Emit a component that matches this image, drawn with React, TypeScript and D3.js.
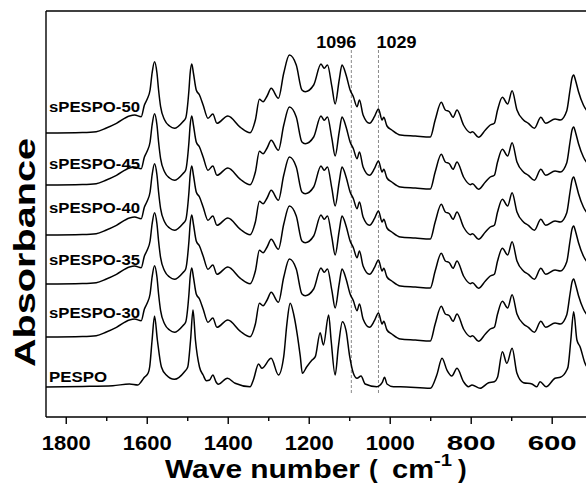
import React from "react";
import * as d3 from "d3";

// ---- data (wavenumber cm-1, absorbance a.u.) ----
const sampleNames = ["PESPO", "sPESPO-30", "sPESPO-35", "sPESPO-40", "sPESPO-45", "sPESPO-50"];
const sampleOffsets = [0, 0.5, 1.03, 1.52, 2.02, 2.54];
const sampleIsSulfonated = [false, true, true, true, true, true];

const pespoSpectrum: [number, number][] = [
  [1850, 0], [1760, 0.005], [1685, 0.013], [1644, 0.03], [1623, 0.02], [1615, 0.053], [1607, 0.097],
  [1598, 0.137], [1594, 0.2], [1588, 0.47], [1582, 0.71], [1575, 0.47], [1565, 0.2], [1553, 0.12],
  [1533, 0.077], [1508, 0.153], [1500, 0.2], [1493, 0.47], [1487, 0.77], [1481, 0.47], [1471, 0.2],
  [1462, 0.12], [1454, 0.063], [1446, 0.07], [1438, 0.12], [1430, 0.05], [1425, 0.027], [1402, 0.087],
  [1383, 0.037], [1346, 0.003], [1338, 0.07], [1325, 0.23], [1317, 0.187], [1294, 0.287], [1276, 0.12],
  [1263, 0.303], [1255, 0.637], [1247, 0.837], [1238, 0.72], [1230, 0.537], [1222, 0.303], [1217, 0.137],
  [1206, 0.203], [1193, 0.27], [1185, 0.303], [1173, 0.543], [1165, 0.42], [1152, 0.72], [1146, 0.47],
  [1136, 0.12], [1128, 0.403], [1118, 0.653], [1109, 0.563], [1100, 0.303], [1091, 0.137], [1082, 0.087],
  [1072, 0.11], [1062, 0.03], [1033, 0.003], [1020, 0.043], [1014, 0.097], [1008, 0.03], [992, 0.003],
  [975, 0.003], [901, -0.013], [885, 0.12], [872, 0.287], [860, 0.17], [848, 0.11], [835, 0.187],
  [819, 0.053], [807, 0.003], [798, 0.02], [778, -0.013], [757, 0.043], [743, 0.053], [735, 0.097],
  [723, 0.353], [712, 0.237], [699, 0.387], [687, 0.137], [671, 0.043], [650, 0.03], [638, 0.003],
  [630, 0.053], [615, 0.003], [593, 0.087], [580, 0.097], [564, 0.17], [561, 0.2], [554, 0.47],
  [547, 0.753], [539, 0.47], [531, 0.4], [519, 0.237], [505, 0.16],
];

const sulfonatedSpectrum: [number, number][] = [
  [1850, 0], [1760, 0.005], [1726, 0.013], [1701, 0.05], [1676, 0.097], [1644, 0.17], [1631, 0.18],
  [1615, 0.163], [1607, 0.28], [1600, 0.34], [1593, 0.43], [1588, 0.6], [1582, 0.713], [1576, 0.6],
  [1572, 0.43], [1567, 0.263], [1557, 0.13], [1545, 0.07], [1533, 0.047], [1512, 0.113], [1505, 0.15],
  [1497, 0.43], [1494, 0.6], [1490, 0.69], [1486, 0.6], [1479, 0.43], [1471, 0.38], [1462, 0.28],
  [1450, 0.147], [1438, 0.19], [1428, 0.097], [1401, 0.17], [1370, 0.057], [1346, 0.003], [1333, 0.13],
  [1323, 0.337], [1314, 0.313], [1304, 0.37], [1294, 0.447], [1276, 0.347], [1263, 0.597], [1249, 0.78],
  [1232, 0.68], [1218, 0.43], [1210, 0.413], [1189, 0.48], [1171, 0.69], [1163, 0.647], [1155, 0.68],
  [1144, 0.463], [1136, 0.29], [1126, 0.53], [1119, 0.68], [1109, 0.58], [1099, 0.43], [1091, 0.363],
  [1082, 0.263], [1076, 0.33], [1067, 0.18], [1051, 0.097], [1039, 0.163], [1029, 0.24], [1020, 0.13],
  [1016, 0.157], [1008, 0.07], [996, 0.03], [975, -0.02], [938, -0.03], [901, -0.04], [889, 0.13],
  [874, 0.307], [864, 0.23], [854, 0.213], [845, 0.157], [835, 0.23], [819, 0.08], [802, 0.003],
  [797, 0.013], [782, -0.043], [765, 0.03], [753, 0.08], [743, 0.097], [735, 0.23], [723, 0.357],
  [710, 0.29], [699, 0.423], [687, 0.23], [671, 0.13], [659, 0.097], [644, 0.047], [628, 0.157],
  [616, 0.097], [593, 0.14], [580, 0.13], [564, 0.223], [556, 0.43], [551, 0.55], [547, 0.58],
  [542, 0.52], [535, 0.413], [523, 0.28], [505, 0.18],
];

const majorTicks = [1800, 1600, 1400, 1200, 1000, 800, 600];
const minorTicks = [1700, 1500, 1300, 1100, 900, 700];
const markerLines = [1096, 1029];

const W = 586;
const H = 485;
const FONT = "'Liberation Sans', Arial, Helvetica, sans-serif";

export default function App() {
  const left = 46, top = 11, bottom = 417, right = 586;
  const x = d3.scaleLinear().domain([1850, 500]).range([46, 592.7]);
  const y = d3.scaleLinear().domain([-0.3, 3.76]).range([bottom, top]);

  const line = d3
    .line<[number, number]>()
    .x((d) => x(d[0]))
    .y((d) => y(d[1]))
    .curve(d3.curveMonotoneX);

  const labelLift = [0.055, 0.19, 0.19, 0.22, 0.16, 0.21];
  const labelWidth = [58, 91, 91, 91, 91, 91];

  return (
    <div style={{ position: "fixed", left: 0, top: 0 }}>
      <svg width={W} height={H} style={{ display: "block", background: "#fff" }}>
        <defs>
          <clipPath id="plotclip">
            <rect x={left} y={top} width={right - left + 10} height={bottom - top} />
          </clipPath>
        </defs>
        <rect x={0} y={0} width={W} height={H} fill="#fff" />

        {/* dashed markers */}
        {markerLines.map((m) => (
          <line
            key={m}
            x1={x(m)}
            x2={x(m)}
            y1={y(3.37)}
            y2={y(-0.07)}
            stroke="#8a8a8a"
            strokeWidth={1}
            strokeDasharray="3,2"
          />
        ))}

        {/* spectra */}
        <g clipPath="url(#plotclip)">
          {sampleNames.map((name, i) => {
            const base = sampleIsSulfonated[i] ? sulfonatedSpectrum : pespoSpectrum;
            const shifted = base.map((d) => [d[0], d[1] + sampleOffsets[i]] as [number, number]);
            return (
              <path
                key={name}
                d={line(shifted) || ""}
                fill="none"
                stroke="#000"
                strokeWidth={1.5}
                strokeLinejoin="round"
              />
            );
          })}
        </g>

        {/* sample labels */}
        {sampleNames.map((name, i) => (
          <text
            key={name}
            x={49}
            y={y(sampleOffsets[i] + labelLift[i])}
            fontFamily={FONT}
            fontWeight="bold"
            fontSize={14}
            textLength={labelWidth[i]}
            lengthAdjust="spacingAndGlyphs"
            fill="#000"
          >
            {name}
          </text>
        ))}

        {/* marker labels */}
        <text x={x(1096) - 15} y={48} textAnchor="middle" fontFamily={FONT} fontWeight="bold" fontSize={17}
          textLength={40} lengthAdjust="spacingAndGlyphs">1096</text>
        <text x={x(1029) + 18} y={48} textAnchor="middle" fontFamily={FONT} fontWeight="bold" fontSize={17}
          textLength={40} lengthAdjust="spacingAndGlyphs">1029</text>

        {/* frame */}
        <line x1={left} x2={left} y1={top} y2={bottom} stroke="#000" strokeWidth={1.4} />
        <line x1={left} x2={right} y1={top} y2={top} stroke="#000" strokeWidth={1.4} />
        <line x1={left} x2={right} y1={bottom} y2={bottom} stroke="#000" strokeWidth={1.4} />

        {/* ticks */}
        {majorTicks.map((t) => (
          <g key={t}>
            <line x1={x(t)} x2={x(t)} y1={bottom} y2={bottom + 7} stroke="#000" strokeWidth={1.4} />
            <text x={x(t)} y={450} textAnchor="middle" fontFamily={FONT} fontWeight="bold" fontSize={21}
              textLength={49} lengthAdjust="spacingAndGlyphs">
              {t}
            </text>
          </g>
        ))}
        {minorTicks.map((t) => (
          <line key={t} x1={x(t)} x2={x(t)} y1={bottom} y2={bottom + 4} stroke="#000" strokeWidth={1.4} />
        ))}

        {/* x axis title */}
        <text x={165} y={478} fontFamily={FONT} fontWeight="bold" fontSize={26}
          textLength={195} lengthAdjust="spacingAndGlyphs">Wave number</text>
        <text x={369} y={478} fontFamily={FONT} fontWeight="bold" fontSize={26}>(</text>
        <text x={392} y={478} fontFamily={FONT} fontWeight="bold" fontSize={26}
          textLength={42} lengthAdjust="spacingAndGlyphs">cm</text>
        <text x={434} y={466} fontFamily={FONT} fontWeight="bold" fontSize={16}
          textLength={18} lengthAdjust="spacingAndGlyphs">-1</text>
        <text x={458} y={478} fontFamily={FONT} fontWeight="bold" fontSize={26}>)</text>

        {/* y axis title */}
        <text transform="translate(35,252.5) rotate(-90)" textAnchor="middle" fontFamily={FONT}
          fontWeight="bold" fontSize={30} textLength={229} lengthAdjust="spacingAndGlyphs">
          Absorbance
        </text>
      </svg>
    </div>
  );
}
